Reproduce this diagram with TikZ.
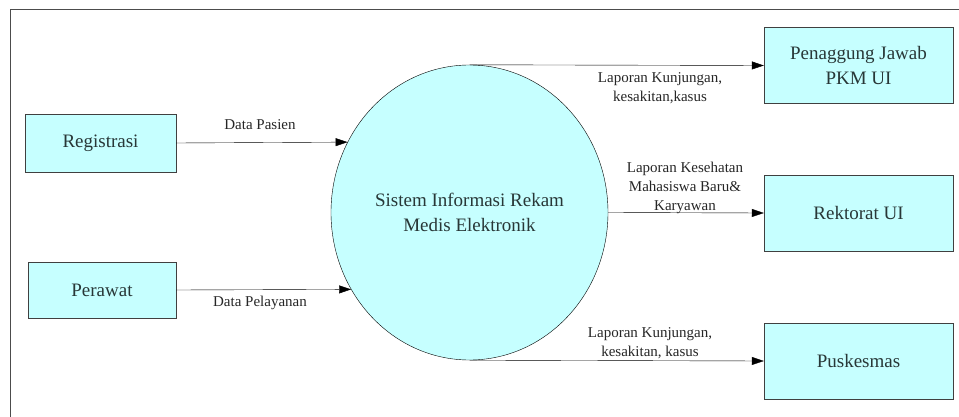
\documentclass[tikz,border=0pt]{standalone}
\usepackage{fontspec}
\setmainfont{Liberation Serif}
\usetikzlibrary{arrows.meta,shapes.geometric}
\definecolor{dfdfill}{RGB}{198,255,255}
\definecolor{dfdtext}{RGB}{40,55,55}
\tikzset{
  extblock/.style={draw=black!75, rectangle, fill=dfdfill, text=dfdtext, align=center, font=\fontsize{19}{25}\selectfont, inner sep=0pt},
  procblock/.style={draw=black, ellipse, fill=dfdfill, text=dfdtext, align=center, font=\fontsize{19}{25}\selectfont, inner sep=0pt, minimum width=277pt, minimum height=295pt},
  flowwire/.style={thin, -{Triangle[length=12pt,width=8pt]}},
  flowword/.style={align=center, text=black!85, font=\fontsize{15}{19}\selectfont, inner sep=0pt}
}
\begin{document}
\begin{tikzpicture}[x=1pt,y=-1pt]
    \useasboundingbox (0,0) rectangle (959,417);
    \draw[black!70] (10,417) -- (10,9) -- (959,9); % bingkai

    \node[procblock] (sim) at (469.5,212.5) {Sistem Informasi Rekam\\ Medis Elektronik} ;

    \node[extblock, minimum width=151pt, minimum height=58pt] (reg) at (100.5,143) {Registrasi} ;
    \node[extblock, minimum width=148pt, minimum height=56pt] (per) at (102,290) {Perawat} ;

    \node[extblock, minimum width=189pt, minimum height=76pt] (pj) at (858.5,65.5) {Penaggung Jawab\\ PKM UI} ;
    \node[extblock, minimum width=189pt, minimum height=76pt] (rek) at (858.5,213) {Rektorat UI} ;
    \node[extblock, minimum width=189pt, minimum height=76pt] (pus) at (858.5,361) {Puskesmas} ;

    \draw[flowwire] (reg.east) -- (sim.150.4);
    \node[flowword] (lreg) at (260,125) {Data Pasien};
    \draw[flowwire] (per.east) -- (sim.213.3);
    \node[flowword] (lper) at (260,303) {Data Pelayanan};

    \draw[flowwire] (sim.north) -- (pj.west);
    \node[flowword] (lpj) at (660,88) {Laporan Kunjungan,\\ kesakitan,kasus};
    \draw[flowwire] (sim.east) -- (rek.west);
    \node[flowword] (lrek) at (685,188) {Laporan Kesehatan\\ Mahasiswa Baru\&\\ Karyawan};
    \draw[flowwire] (sim.south) -- (pus.west);
    \node[flowword] (lpus) at (650,343) {Laporan Kunjungan,\\ kesakitan, kasus};
  \end{tikzpicture}
\end{document}
